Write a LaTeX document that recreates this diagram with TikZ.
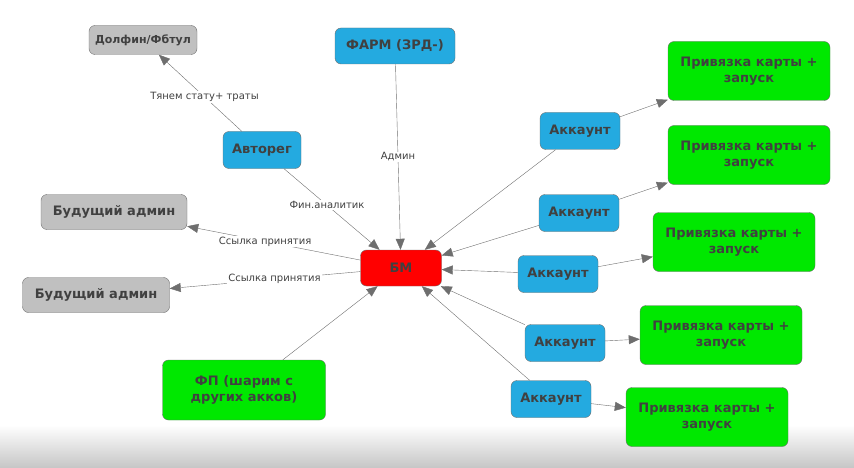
\documentclass[tikz,border=0pt]{standalone}
\usepackage{fontspec}
\setmainfont{DejaVu Sans}
\usetikzlibrary{arrows.meta}
\definecolor{nodeblue}{RGB}{36,170,224}
\definecolor{nodegreen}{RGB}{0,232,0}
\definecolor{nodegray}{RGB}{192,192,192}
\definecolor{linegray}{RGB}{110,110,110}
\definecolor{textgray}{RGB}{64,64,64}
\tikzset{
  box/.style={draw=linegray,rounded corners=6pt,font=\bfseries\fontsize{13}{16}\selectfont,
    text=textgray,align=center,inner sep=0pt},
  acc/.style={box,fill=nodeblue,minimum width=80pt,minimum height=37pt},
  bind/.style={box,fill=nodegreen,minimum width=162pt,minimum height=59pt},
  link/.style={draw=linegray,-{Triangle[length=11pt,width=9pt]}},
  lbl/.style={fill=white,inner sep=1pt,font=\fontsize{10}{12}\selectfont,text=textgray}
}
\begin{document}
\begin{tikzpicture}[x=1pt,y=-1pt]

  \useasboundingbox (0,0) rectangle (854,468);
  \shade[top color=white,bottom color=gray!45] (0,425) rectangle (854,468);

  % nodes
  \node[box,fill=nodegray,minimum width=108pt,minimum height=29pt,font=\bfseries\fontsize{11}{13}\selectfont] (dolphin) at (143,40) {Долфин/Фбтул};
  \node[box,fill=nodeblue,minimum width=120pt,minimum height=36pt] (farm) at (395,46) {ФАРМ (ЗРД-)};
  \node[box,fill=nodeblue,minimum width=78pt,minimum height=37pt] (autoreg) at (262,150) {Авторег};
  \node[box,fill=nodegray,minimum width=146pt,minimum height=35pt] (admin1) at (114,212) {Будущий админ};
  \node[box,fill=nodegray,minimum width=147pt,minimum height=35pt] (admin2) at (96,295) {Будущий админ};
  \node[box,fill=red,minimum width=81pt,minimum height=36pt] (bm) at (401,268) {БМ};
  \node[box,fill=nodegreen,minimum width=163pt,minimum height=60pt] (fp) at (244,390) {ФП (шарим с\\других акков)};

  % accounts and bindings
  \foreach \i/\ax/\ay/\bx/\by in {1/580/131/749/71, 2/579/213/749/155, 3/558/274/734/242,
                                  4/565/343/721/335, 5/551/399/707/417} {
    \node[acc] (acc\i) at (\ax,\ay) {Аккаунт};
    \node[bind] (bind\i) at (\bx,\by) {Привязка карты +\\запуск};
    \draw[link] (acc\i) -- (bind\i);
    \draw[link] (acc\i) -- (bm);
  }

  % connectors
  \draw[link] (autoreg) -- node[lbl,pos=0.45] {Тянем стату+ траты} (dolphin);
  \draw[link] (autoreg) -- node[lbl,pos=0.45] {Фин.аналитик} (bm);
  \draw[link] (farm) -- node[lbl] {Админ} (bm);
  \draw[link] (bm) -- node[lbl,pos=0.55] {Ссылка принятия} (admin1);
  \draw[link] (bm) -- node[lbl,pos=0.45] {Ссылка принятия} (admin2);
  \draw[link] (fp) -- (bm);

\end{tikzpicture}
\end{document}
